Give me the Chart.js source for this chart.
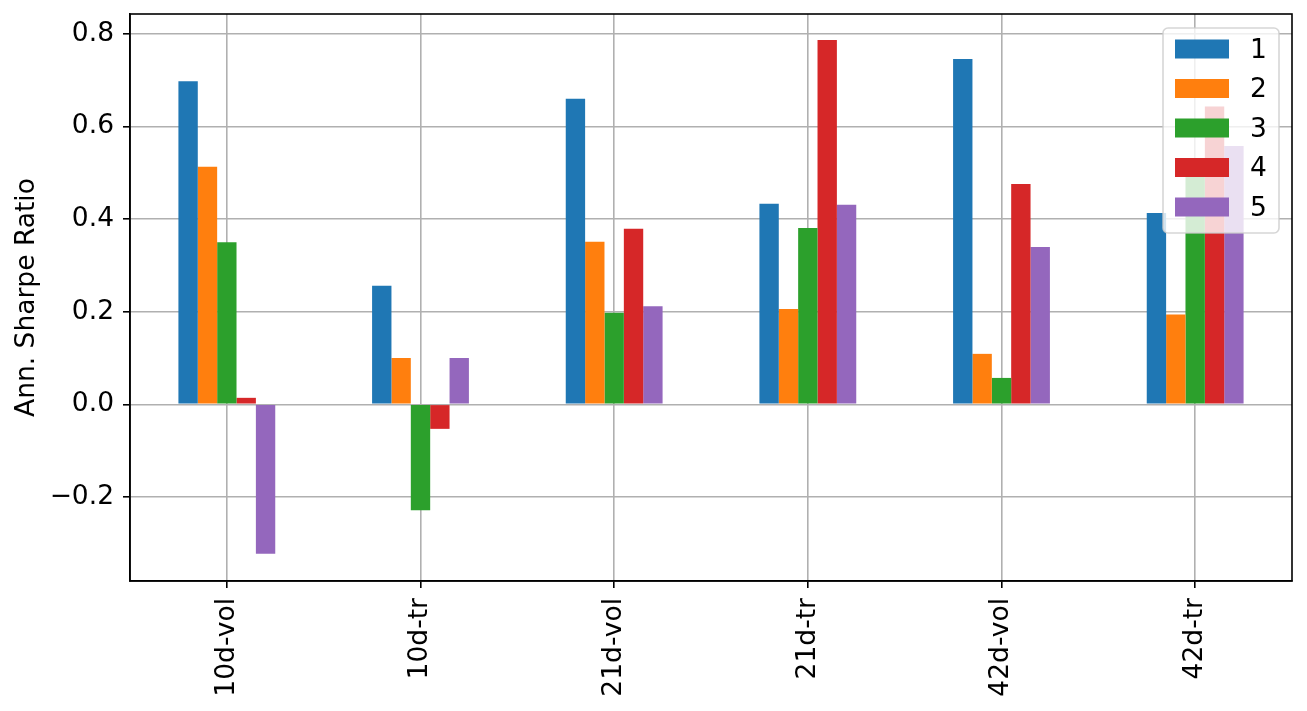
<!DOCTYPE html>
<html>
<head>
<meta charset="utf-8">
<script src="https://cdn.jsdelivr.net/npm/chart.js@4.4.1/dist/chart.umd.min.js"></script>
<style>
  body { margin: 0; background: #fff; }
  #wrap { width: 1307px; height: 711px; }
</style>
</head>
<body>
<div id="wrap"><canvas id="bar-chart" width="1307" height="711"></canvas></div>
<script>
// categories and series (annualised Sharpe ratio per quintile)
const categories = ['10d-vol', '10d-tr', '21d-vol', '21d-tr', '42d-vol', '42d-tr'];
const q1 = [0.698, 0.256, 0.660, 0.433, 0.746, 0.413];
const q2 = [0.513, 0.100, 0.351, 0.206, 0.109, 0.194];
const q3 = [0.350, -0.229, 0.198, 0.381, 0.057, 0.505];
const q4 = [0.014, -0.053, 0.379, 0.787, 0.476, 0.643];
const q5 = [-0.323, 0.100, 0.212, 0.431, 0.340, 0.558];
const seriesLabels = ['1', '2', '3', '4', '5'];
const colors = ['#1f77b4', '#ff7f0e', '#2ca02c', '#d62728', '#9467bd'];

const FONT = '"DejaVu Sans", sans-serif';
const FS = 26.5;

// top/right spines + matplotlib style legend box in the upper right
const frameAndLegend = {
  id: 'frameAndLegend',
  afterDraw(chart) {
    const ctx = chart.ctx;
    const a = chart.chartArea;
    ctx.save();
    ctx.strokeStyle = '#000';
    ctx.lineWidth = 1.6;
    ctx.strokeRect(a.left, a.top, a.right - a.left, a.bottom - a.top);

    const w = 116, h = 205;
    const x = a.right - 13 - w, y = a.top + 14;
    ctx.beginPath();
    if (ctx.roundRect) ctx.roundRect(x, y, w, h, 5); else ctx.rect(x, y, w, h);
    ctx.fillStyle = 'rgba(255,255,255,0.8)';
    ctx.fill();
    ctx.strokeStyle = 'rgba(204,204,204,0.8)';
    ctx.lineWidth = 1.6;
    ctx.stroke();

    ctx.font = FS + 'px ' + FONT;
    ctx.textBaseline = 'middle';
    ctx.textAlign = 'left';
    chart.data.datasets.forEach((ds, i) => {
      const cy = y + 21 + i * 39.5;
      ctx.fillStyle = ds.backgroundColor;
      ctx.fillRect(x + 12, cy - 9.5, 54, 19);
      ctx.fillStyle = '#000';
      ctx.fillText(ds.label, x + 87, cy + 2);
    });
    ctx.restore();
  }
};

const series = [q1, q2, q3, q4, q5];

new Chart(document.getElementById('bar-chart'), {
  type: 'bar',
  data: {
    labels: categories,
    datasets: series.map((d, i) => ({
      label: seriesLabels[i],
      data: d,
      backgroundColor: colors[i],
      borderWidth: 0,
      categoryPercentage: 0.5,
      barPercentage: 1.0
    }))
  },
  options: {
    responsive: false,
    animation: false,
    layout: { padding: { top: 14, right: 15, left: 0, bottom: 0 } },
    scales: {
      x: {
        z: 1,
        afterFit: s => {
          s.height = 130;
          s.paddingLeft = 0; s.paddingRight = 0;
        },
        grid: {
          offset: false,
          color: '#b0b0b0',
          lineWidth: 1.6,
          tickColor: '#000',
          tickLength: 7,
          tickWidth: 1.6
        },
        border: { color: '#000', width: 1.6 },
        ticks: {
          color: '#000',
          font: { family: FONT, size: FS },
          minRotation: 90,
          maxRotation: 90,
          padding: 10
        }
      },
      y: {
        z: 1,
        min: -0.3816,
        max: 0.843,
        afterFit: s => {
          s.width = 130;
          s.paddingTop = 0; s.paddingBottom = 0;
        },
        grid: {
          color: '#b0b0b0',
          lineWidth: 1.6,
          tickColor: '#000',
          tickLength: 7,
          tickWidth: 1.6
        },
        border: { color: '#000', width: 1.6 },
        ticks: {
          stepSize: 0.2,
          includeBounds: false,
          color: '#000',
          padding: 9,
          font: { family: FONT, size: FS },
          callback: v => v.toFixed(1).replace('-', '\u2212')
        },
        title: {
          display: true,
          text: 'Ann. Sharpe Ratio',
          color: '#000',
          font: { family: FONT, size: FS },
          padding: { top: 11, bottom: 0 }
        }
      }
    },
    plugins: {
      legend: { display: false },
      tooltip: { enabled: false }
    }
  },
  plugins: [frameAndLegend]
});
</script>
</body>
</html>
